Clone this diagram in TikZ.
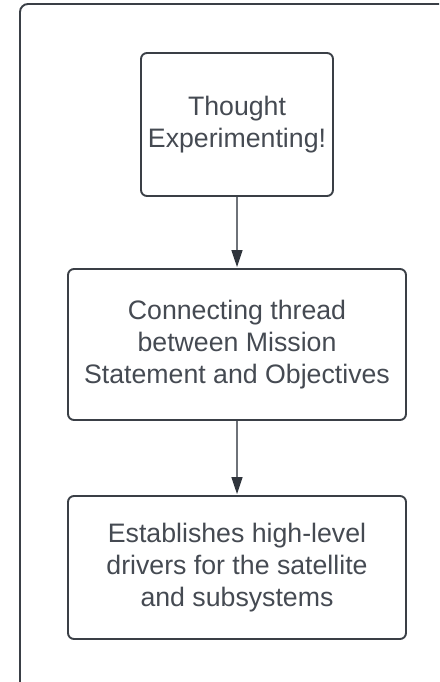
\documentclass[tikz,border=0pt]{standalone}
\usepackage{fontspec}
\setmainfont{Liberation Sans}
\usetikzlibrary{arrows.meta}
\definecolor{edge}{HTML}{3A3F46}
\definecolor{ink}{HTML}{454A52}
\definecolor{wire}{HTML}{6E7278}
\definecolor{tip}{HTML}{30353C}
\tikzset{
  stepbox/.style={draw=edge, line width=1.9pt, rounded corners=6pt,
    align=center, text=ink, inner sep=0pt,
    font=\fontsize{26.7pt}{31.7pt}\selectfont},
  flow/.style={draw=wire, line width=1.2pt,
    -{Triangle[length=17pt,width=11pt,fill=tip,color=tip]}, shorten >=1pt}
}
\begin{document}
\begin{tikzpicture}[x=1pt,y=-1pt]
  \useasboundingbox (0,0) rectangle (439,682);
  % outer frame, running off the right and bottom edges
  \begin{scope}
    \clip (0,0) rectangle (439,682);
    \draw[draw=edge, line width=1.9pt, rounded corners=8pt] (20,4) rectangle (470,720);
  \end{scope}
  \node[stepbox, minimum width=192pt, minimum height=143pt] (b1) at (237,124.5)
    {Thought\\Experimenting!};
  \node[stepbox, minimum width=338pt, minimum height=151pt] (b2) at (237,344.5)
    {Connecting thread\\between Mission\\Statement and Objectives};
  \node[stepbox, minimum width=338pt, minimum height=143pt] (b3) at (237,567.5)
    {Establishes high-level\\drivers for the satellite\\and subsystems};
  \draw[flow] (b1.south) -- (b2.north);
  \draw[flow] (b2.south) -- (b3.north);
\end{tikzpicture}
\end{document}
